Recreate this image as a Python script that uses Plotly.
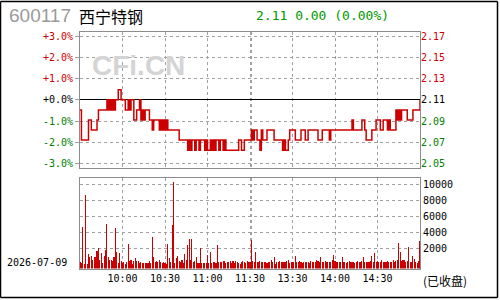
import plotly.graph_objects as go

W, H = 500, 300


def px_x(p):
    return p / W


def px_y(p):
    return 1 - p / H


CODE = "600117"
NAME = "西宁特钢"
QUOTE = "2.11 0.00 (0.00%)"
DATE = "2026-07-09"
STATUS = "(已收盘)"
WATERMARK = "CFi.CN"
PREV_CLOSE = 2.11

TIME_TICKS = [30, 60, 90, 120, 121, 150, 180, 210]
TIME_LABELS = ["10:00", "10:30", "11:00", "11:30", "", "13:30", "14:00", "14:30"]
PCT_TICKS = [-3, -2, -1, 0, 1, 2, 3]
VOL_TICKS = [2000, 4000, 6000, 8000, 10000]
VOL_LABELS = ["2000", "4000", "6000", "8000", "10000"]

# one value per trading minute (09:30 .. 15:00)
price = [
    2.10, 2.07, 2.07, 2.07, 2.07, 2.07, 2.09, 2.09, 2.08, 2.08,
    2.08, 2.08, 2.09, 2.10, 2.10, 2.10, 2.10, 2.10, 2.10, 2.11,
    2.10, 2.11, 2.10, 2.11, 2.10, 2.11, 2.11, 2.12, 2.12, 2.11,
    2.11, 2.11, 2.10, 2.10, 2.11, 2.10, 2.11, 2.11, 2.09, 2.09,
    2.10, 2.10, 2.11, 2.09, 2.10, 2.09, 2.10, 2.10, 2.10, 2.09,
    2.09, 2.08, 2.09, 2.09, 2.09, 2.09, 2.08, 2.09, 2.08, 2.09,
    2.08, 2.09, 2.08, 2.08, 2.08, 2.08, 2.08, 2.08, 2.08, 2.08,
    2.07, 2.07, 2.07, 2.07, 2.07, 2.07, 2.06, 2.07, 2.06, 2.07,
    2.07, 2.06, 2.07, 2.07, 2.06, 2.07, 2.07, 2.07, 2.06, 2.07,
    2.06, 2.06, 2.07, 2.06, 2.07, 2.06, 2.07, 2.07, 2.06, 2.07,
    2.07, 2.06, 2.07, 2.06, 2.06, 2.06, 2.06, 2.06, 2.06, 2.06,
    2.06, 2.06, 2.07, 2.07, 2.06, 2.06, 2.07, 2.07, 2.07, 2.07,
    2.07, 2.08, 2.07, 2.08, 2.08, 2.07, 2.07, 2.06, 2.08, 2.07,
    2.07, 2.07, 2.08, 2.08, 2.08, 2.08, 2.08, 2.07, 2.07, 2.07,
    2.07, 2.07, 2.07, 2.06, 2.07, 2.06, 2.06, 2.07, 2.08, 2.08,
    2.08, 2.08, 2.07, 2.07, 2.07, 2.07, 2.08, 2.08, 2.08, 2.07,
    2.07, 2.08, 2.08, 2.08, 2.08, 2.08, 2.08, 2.08, 2.07, 2.07,
    2.07, 2.08, 2.08, 2.08, 2.08, 2.08, 2.07, 2.08, 2.08, 2.08,
    2.08, 2.08, 2.08, 2.08, 2.08, 2.08, 2.08, 2.08, 2.08, 2.08,
    2.08, 2.08, 2.09, 2.08, 2.08, 2.08, 2.08, 2.08, 2.08, 2.09,
    2.09, 2.08, 2.07, 2.07, 2.07, 2.07, 2.08, 2.08, 2.08, 2.09,
    2.09, 2.09, 2.08, 2.08, 2.09, 2.09, 2.09, 2.08, 2.09, 2.08,
    2.08, 2.08, 2.08, 2.10, 2.09, 2.10, 2.09, 2.10, 2.10, 2.10,
    2.10, 2.09, 2.09, 2.09, 2.09, 2.10, 2.10, 2.10, 2.10, 2.10,
    2.11,
]

volume = [
    300, 150, 4640, 100, 8680, 100, 1270, 950, 1050, 600,
    900, 900, 1680, 2010, 500, 1400, 150, 1050, 1800, 5060,
    900, 600, 550, 400, 900, 4560, 1500, 150, 1400, 450,
    200, 250, 100, 250, 2510, 400, 550, 120, 400, 750,
    450, 450, 200, 300, 200, 200, 200, 150, 200, 400,
    200, 3410, 900, 250, 450, 250, 550, 300, 150, 250,
    150, 100, 2510, 800, 250, 4890, 10250, 200, 750, 1100,
    450, 250, 550, 200, 1300, 500, 2430, 3120, 550, 3230,
    250, 400, 900, 200, 200, 2000, 150, 200, 200, 200,
    1170, 200, 1550, 150, 300, 300, 150, 2430, 300, 300,
    300, 400, 400, 150, 300, 300, 400, 200, 400, 200,
    400, 250, 200, 100, 300, 400, 250, 200, 400, 250,
    300, 3000, 400, 300, 1550, 250, 250, 400, 300, 350,
    250, 250, 200, 350, 250, 500, 300, 900, 100, 250,
    300, 400, 300, 250, 300, 350, 400, 500, 150, 300,
    250, 300, 1100, 300, 250, 400, 300, 200, 350, 250,
    300, 250, 200, 400, 300, 250, 350, 500, 400, 300,
    900, 250, 300, 400, 300, 350, 250, 300, 500, 1200,
    400, 300, 250, 350, 300, 950, 300, 250, 200, 300,
    400, 350, 250, 300, 200, 300, 450, 300, 250, 400,
    900, 300, 250, 350, 300, 400, 1000, 300, 1420, 250,
    400, 300, 250, 600, 300, 250, 350, 400, 300, 250,
    300, 600, 250, 400, 500, 2710, 1500, 400, 600, 600,
    300, 450, 2200, 300, 250, 1000, 700, 300, 200, 400,
    2870,
]

minutes = list(range(len(price)))
pct = [(p / PREV_CLOSE - 1) * 100 for p in price]

RED = "#cc0000"
GREEN = "#008000"
GRID = "#a0a0a0"
FRAME = "#8c8c8c"
MONO = "DejaVu Sans Mono"

VOL_FLOOR = -500
PCT_RANGE = [-3.19, 3.19]


def pct_color(v):
    if v > 0:
        return RED
    if v < 0:
        return GREEN
    return "#000000"


left_text = [f'<span style="color:{pct_color(v)}">{v:+.1f}%</span>' for v in PCT_TICKS]
right_text = [
    f'<span style="color:{pct_color(v)}">{PREV_CLOSE * (1 + v / 100):.2f}</span>'
    for v in PCT_TICKS
]

fig = go.Figure()
fig.add_trace(go.Scatter(
    x=minutes, y=pct, mode="lines", line=dict(color=RED, width=1.5, shape="hv"),
    xaxis="x", yaxis="y", hoverinfo="skip", showlegend=False,
))
fig.add_trace(go.Scatter(
    x=minutes, y=pct, mode="lines", line=dict(color="rgba(0,0,0,0)", width=0),
    xaxis="x", yaxis="y3", hoverinfo="skip", showlegend=False,
))
fig.add_trace(go.Bar(
    x=minutes, y=[v - VOL_FLOOR for v in volume], base=VOL_FLOOR,
    marker=dict(color=RED, line=dict(width=0)), width=0.75,
    xaxis="x2", yaxis="y2", hoverinfo="skip", showlegend=False,
))

xdom = [px_x(80), px_x(420)]
common_x = dict(
    domain=xdom, range=[0, 240], tickvals=TIME_TICKS, showgrid=True,
    gridcolor=GRID, griddash="dot", gridwidth=1, zeroline=False,
    showline=True, mirror=True, linecolor=FRAME, linewidth=1, ticks="",
    fixedrange=True,
)

fig.update_layout(
    width=W, height=H, margin=dict(l=0, r=0, t=0, b=0),
    paper_bgcolor="white", plot_bgcolor="white", bargap=0,
    xaxis=dict(anchor="y", showticklabels=False, **common_x),
    xaxis2=dict(anchor="y2", ticktext=TIME_LABELS, showticklabels=True,
                tickfont=dict(family=MONO, size=10, color="black"), **common_x),
    yaxis=dict(
        domain=[px_y(167.7), px_y(31.3)], range=PCT_RANGE, tickvals=PCT_TICKS,
        ticktext=left_text, ticks="outside", ticklen=4, tickcolor=GRID,
        tickfont=dict(family=MONO, size=10), showgrid=True, gridcolor=GRID,
        griddash="dot", zeroline=True, zerolinecolor="black", zerolinewidth=1,
        showline=True, mirror=True, linecolor=FRAME, linewidth=1,
    ),
    yaxis3=dict(
        overlaying="y", anchor="x", side="right", range=PCT_RANGE,
        tickvals=PCT_TICKS, ticktext=right_text, ticks="",
        tickfont=dict(family=MONO, size=10), showgrid=False, zeroline=False,
        showline=False,
    ),
    yaxis2=dict(
        domain=[px_y(269.3), px_y(178.3)], range=[VOL_FLOOR, 10740],
        side="right", anchor="x2", tickvals=VOL_TICKS, ticktext=VOL_LABELS, ticks="",
        tickfont=dict(family=MONO, size=10, color="black"), showgrid=True,
        gridcolor=GRID, griddash="dot", zeroline=False, showline=True,
        mirror=True, linecolor=FRAME, linewidth=1,
    ),
)

ann = [
    dict(text=f"<b>{WATERMARK}</b>", x=px_x(138), y=px_y(65), xanchor="center",
         yanchor="middle", font=dict(family="Liberation Sans", size=28, color="#d4d4d4")),
    dict(text=CODE, x=px_x(7), y=px_y(15), xanchor="left", yanchor="middle",
         font=dict(family="Liberation Sans", size=19, color="#9a9a9a")),
    dict(text=NAME, x=px_x(77), y=px_y(15), xanchor="left", yanchor="middle",
         font=dict(family="Noto Sans CJK SC", size=16, color="black")),
    dict(text=QUOTE, x=px_x(254), y=px_y(15), xanchor="left", yanchor="middle",
         font=dict(family=MONO, size=13, color="#009900")),
    dict(text=DATE, x=px_x(5), y=px_y(263), xanchor="left", yanchor="middle",
         font=dict(family=MONO, size=10, color="black")),
    dict(text=STATUS, x=px_x(421), y=px_y(281), xanchor="left", yanchor="middle",
         font=dict(family="Noto Sans CJK SC", size=12, color="black")),
]
for a in ann:
    a.update(xref="paper", yref="paper", showarrow=False)
fig.update_layout(annotations=ann)

# outer frame, drawn as four separate edges
for (x0, y0, x1, y1) in [(0.5, 0.5, 497.5, 0.5), (0.5, 0.5, 0.5, 298.5),
                         (497.5, 0.5, 497.5, 298.5), (0.5, 298.5, 497.5, 298.5)]:
    fig.add_shape(type="line", xref="paper", yref="paper",
                  x0=px_x(x0), x1=px_x(x1), y0=px_y(y0), y1=px_y(y1),
                  line=dict(color="black", width=1.5), layer="above")

fig.write_html("out.html", config={"displayModeBar": False, "staticPlot": True})
